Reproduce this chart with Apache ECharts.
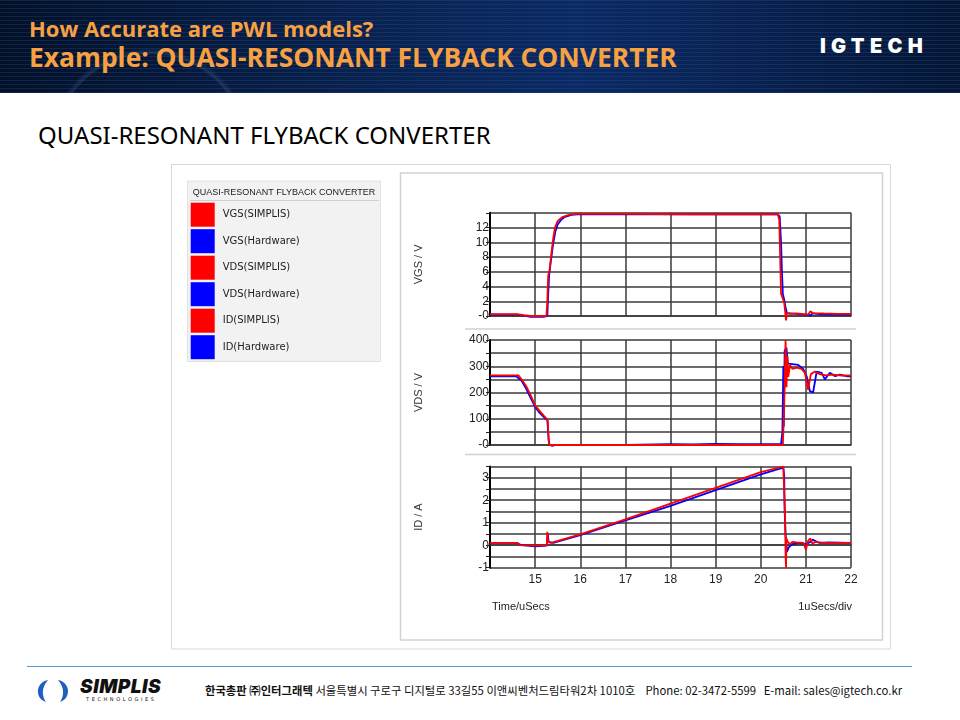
<!DOCTYPE html>
<html><head><meta charset="utf-8">
<script src="https://cdn.jsdelivr.net/npm/echarts@6/dist/echarts.min.js"></script>
<style>
html,body{margin:0;padding:0;width:960px;height:720px;overflow:hidden;background:#fff;}
#header{position:absolute;left:0;top:0;width:960px;height:93px;
  background:
   repeating-linear-gradient(180deg, rgba(60,100,190,0.22) 0px, rgba(60,100,190,0.22) 1px, rgba(0,0,0,0) 1px, rgba(0,0,0,0) 4px),
   radial-gradient(circle at 150px 150px, rgba(60,90,150,0) 0px, rgba(60,90,150,0) 95px, rgba(90,120,180,0.25) 97px, rgba(60,90,150,0) 102px),
   linear-gradient(90deg,#031127 0%,#08204a 35%,#0b2a63 60%,#08204c 80%,#041632 100%);}
.t1{position:absolute;left:29px;top:15px;font:bold 22px/26px "Open Sans",sans-serif;color:#f7a143;white-space:nowrap;}
.t2{position:absolute;left:29px;top:42px;font:bold 26.4px/30px "Open Sans",sans-serif;color:#f7a143;white-space:nowrap;}
.logo{position:absolute;left:820px;top:34px;font:900 20px/24px "Inter",sans-serif;color:#fff;letter-spacing:5.3px;white-space:nowrap;}
.sub{position:absolute;left:38px;top:120px;font:24px/30px "Noto Sans",sans-serif;color:#000;white-space:nowrap;}
.fline{position:absolute;left:27px;top:666px;width:885px;height:1px;background:#5c9bd1;}
.ftext{position:absolute;left:205px;top:682px;font:11.35px/16px "Noto Sans CJK KR",sans-serif;color:#111;white-space:nowrap;}
.ftext b{font-weight:bold;}
.simplis{position:absolute;left:30px;top:676px;width:150px;height:30px;}
.stext{position:absolute;left:80px;top:677px;font:italic 900 19px/20px "Inter",sans-serif;color:#111;letter-spacing:0.5px;}
.stech{position:absolute;left:86px;top:696px;font:5px/6px "DejaVu Sans",sans-serif;color:#111;letter-spacing:2.6px;}
#chart{position:absolute;left:0;top:0;width:960px;height:720px;}
</style></head>
<body>
<div id="header">
  <div class="t1">How Accurate are PWL models?</div>
  <div class="t2">Example: QUASI-RESONANT FLYBACK CONVERTER</div>
  <div class="logo">IGTECH</div>
</div>
<div class="sub">QUASI-RESONANT FLYBACK CONVERTER</div>
<div class="fline"></div>
<svg class="simplis" viewBox="0 0 150 30">
  <path d="M18 4 C6 6 4 22 16 26 C12 20 11 12 18 4 Z" fill="#1f5fbf"/>
  <path d="M28 4 C40 6 42 22 30 26 C34 20 35 12 28 4 Z" fill="#1f5fbf"/>
</svg>
<div class="stext">SIMPLIS</div>
<div class="stech">TECHNOLOGIES</div>
<div class="ftext"><b>한국총판 ㈜인터그래텍</b> 서울특별시 구로구 디지털로 33길55 이앤씨벤처드림타워2차 1010호 &nbsp;&nbsp; Phone: 02-3472-5599 &nbsp;&nbsp;E-mail: sales@igtech.co.kr</div>
<div id="chart"></div>
<script>
// ---- data: [time (uSecs), value] ----
const vgsSim = [[14,0.25],[14.6,0.25],[14.75,0.1],[14.9,0.0],[15.25,0.0],[15.27,2],[15.29,5.5],[15.32,6.2],[15.36,8.5],[15.4,10.5],[15.44,12.0],[15.5,12.9],[15.6,13.4],[15.75,13.7],[15.9,13.85],[17,13.85],[18.5,13.8],[20.38,13.8],[20.41,13.0],[20.43,8.0],[20.45,3.0],[20.48,2.5],[20.52,1.8],[20.55,0.0],[20.56,-0.6],[20.58,0.4],[20.65,0.3],[20.8,0.35],[20.95,0.25],[21.05,0.2],[21.1,0.65],[21.15,0.4],[21.4,0.35],[21.7,0.3],[22,0.3]];
const vgsHw = [[14,0.2],[14.6,0.2],[14.75,0.05],[14.9,-0.1],[15.2,-0.1],[15.27,0.0],[15.29,3.0],[15.31,5.5],[15.35,7.5],[15.4,9.8],[15.45,11.5],[15.5,12.4],[15.57,13.0],[15.65,13.4],[15.8,13.7],[16,13.8],[18,13.8],[20.38,13.8],[20.42,13.5],[20.45,10],[20.47,6],[20.49,3.0],[20.52,2.2],[20.55,1.2],[20.58,0.4],[20.62,0.3],[20.8,0.3],[21,0.2],[21.1,0.1],[21.15,0.35],[21.3,0.25],[21.5,0.2],[22,0.2]];
const vdsSim = [[14,265],[14.63,265],[14.7,250],[14.8,225],[14.9,190],[15,150],[15.1,130],[15.2,110],[15.28,95],[15.3,20],[15.31,0],[16,0],[18,0],[20.49,0],[20.52,150],[20.55,400],[20.57,220],[20.59,340],[20.61,260],[20.65,305],[20.7,290],[20.8,295],[20.9,290],[20.98,275],[21.05,210],[21.11,270],[21.2,280],[21.3,270],[21.45,265],[21.6,268],[21.8,264],[22,265]];
const vdsHw = [[14,262],[14.58,262],[14.7,245],[14.8,215],[14.9,180],[15,145],[15.1,122],[15.2,105],[15.27,95],[15.3,20],[15.32,0],[15.38,-3],[15.45,0],[17,0],[18,3],[18.5,2],[19,4],[19.5,3],[20,3],[20.45,4],[20.48,50],[20.5,300],[20.51,70],[20.53,360],[20.57,370],[20.6,310],[20.7,308],[20.83,305],[20.94,290],[21.02,260],[21.09,205],[21.16,200],[21.24,280],[21.35,275],[21.42,250],[21.53,275],[21.65,262],[21.75,268],[21.9,262],[22,262]];
const idSim = [[14,0.1],[14.62,0.1],[14.64,0.0],[15,-0.02],[15.26,0.0],[15.27,0.6],[15.29,0.15],[15.35,0.1],[16,0.48],[17,1.15],[18,1.85],[19,2.55],[20,3.25],[20.5,3.5],[20.52,3.45],[20.54,1.2],[20.55,-0.5],[20.56,-1.0],[20.57,0.3],[20.6,0.15],[20.65,0.05],[20.7,0.15],[20.8,0.12],[20.95,0.1],[21,-0.2],[21.05,0.2],[21.1,0.3],[21.15,0.05],[21.2,0.15],[21.4,0.1],[22,0.1]];
const idHw = [[14,0.1],[14.6,0.1],[14.7,0.0],[15,-0.05],[15.26,-0.02],[15.28,0.5],[15.3,0.15],[15.4,0.1],[16,0.45],[17,1.1],[18,1.75],[19,2.45],[20,3.15],[20.5,3.45],[20.52,3.1],[20.53,1.5],[20.55,0.5],[20.58,-0.3],[20.62,-0.1],[20.7,0.05],[20.85,0.1],[21,0.05],[21.1,0.15],[21.15,0.25],[21.2,0.2],[21.3,0.1],[21.5,0.12],[22,0.1]];
const seriesNames = ['VGS(SIMPLIS)','VGS(Hardware)','VDS(SIMPLIS)','VDS(Hardware)','ID(SIMPLIS)','ID(Hardware)'];
const yNames = ['VGS / V','VDS / V','ID / A'];
const xTitleLeft = 'Time/uSecs';
const xTitleRight = '1uSecs/div';
const legendTitle = 'QUASI-RESONANT FLYBACK CONVERTER';

const RED = '#ff0000', BLUE = '#0000ff';
const GRIDC = '#3a3a3a';
const chart = echarts.init(document.getElementById('chart'), null, {renderer:'canvas'});
const grids = [
  {left:490, right:109, top:212.75, height:103.25},
  {left:490, right:109, top:340, height:105},
  {left:490, right:109, top:466.5, height:101.2}
];
const xAxes = [0,1,2].map(i=>({
  type:'value', gridIndex:i, min:14, max:22, interval:1,
  axisLine:{show:true, lineStyle:{color:GRIDC, width:1.5}},
  axisTick:{show:false},
  splitLine:{show:true, lineStyle:{color:GRIDC, width:1.5}},
  axisLabel:{show:i===2, showMinLabel:false, fontSize:12, color:'#222', fontFamily:'Liberation Sans', margin:6}
}));
const yBase = (i)=>({
  type:'value', gridIndex:i,
  name:yNames[i], nameLocation:'middle', nameGap:66, nameRotate:90,
  nameTextStyle:{fontSize:11, color:'#333', fontFamily:'Liberation Sans'},
  axisLine:{show:true, lineStyle:{color:'#000', width:2}},
  axisTick:{show:true, length:4, lineStyle:{color:'#222', width:1}},
  splitLine:{show:true, lineStyle:{color:GRIDC, width:1.5}}
});
const yAxes = [
  Object.assign(yBase(0), {min:0, max:14, interval:2,
    axisLabel:{fontSize:12, color:'#222', fontFamily:'Liberation Sans', margin:1, formatter:v=>v===0?'-0':(v===14?'':String(v))}}),
  Object.assign(yBase(1), {min:0, max:400, interval:50,
    axisLabel:{fontSize:12, color:'#222', fontFamily:'Liberation Sans', margin:1, formatter:v=>v%100===0?(v===0?'-0':String(v)):''}}),
  Object.assign(yBase(2), {min:-1, max:3.5, interval:0.5,
    axisLabel:{fontSize:12, color:'#222', fontFamily:'Liberation Sans', margin:1, formatter:v=>Number.isInteger(v)?String(v):''}})
];
const mk = (name, data, idx, color, z)=>({
  name, type:'line', data, xAxisIndex:idx, yAxisIndex:idx, showSymbol:false, symbol:'none',
  lineStyle:{color, width:1.8}, itemStyle:{color}, z, clip:false, animation:false
});
const series = [
  mk(seriesNames[1], vgsHw, 0, BLUE, 2),
  mk(seriesNames[0], vgsSim, 0, RED, 3),
  mk(seriesNames[3], vdsHw, 1, BLUE, 2),
  mk(seriesNames[2], vdsSim, 1, RED, 3),
  mk(seriesNames[5], idHw, 2, BLUE, 2),
  mk(seriesNames[4], idSim, 2, RED, 3)
];
chart.setOption({
  animation:false,
  backgroundColor:'transparent',
  grid:grids, xAxis:xAxes, yAxis:yAxes, series,
  legend:{
    data:seriesNames, orient:'vertical', left:190.7, top:202.7, padding:0,
    itemWidth:24, itemHeight:24, itemGap:2.5, icon:'rect', selectedMode:false,
    textStyle:{fontSize:10, color:'#222', fontFamily:'DejaVu Sans', padding:[0,0,0,3]}
  },
  graphic:[
    {type:'rect', z:-10, shape:{x:171.5, y:164.5, width:719, height:484.5}, style:{fill:'#fff', stroke:'#d8d8d8', lineWidth:1}},
    {type:'rect', z:-9, shape:{x:400.5, y:173, width:482, height:467}, style:{fill:'#fff', stroke:'#d2d2d2', lineWidth:1.5}},
    {type:'rect', z:-8, shape:{x:187.5, y:181, width:193, height:180.5}, style:{fill:'#f2f2f2', stroke:'#e2e2e2', lineWidth:1}},
    {type:'text', z:5, style:{x:284, y:192.5, text:legendTitle, fill:'#222', font:'9px "Liberation Sans"', textAlign:'center', textVerticalAlign:'middle'}},
    {type:'line', z:5, shape:{x1:190, y1:200.5, x2:379, y2:200.5}, style:{stroke:'#d0d0d0', lineWidth:1}},
    {type:'line', z:-7, shape:{x1:465, y1:329, x2:856, y2:329}, style:{stroke:'#d0d0d0', lineWidth:1.5}},
    {type:'line', z:-7, shape:{x1:465, y1:454.5, x2:856, y2:454.5}, style:{stroke:'#d0d0d0', lineWidth:1.5}},
    {type:'text', z:5, style:{x:492, y:606.5, text:xTitleLeft, fill:'#222', font:'11px "Liberation Sans"', textAlign:'left', textVerticalAlign:'middle'}},
    {type:'text', z:5, style:{x:852, y:606.5, text:xTitleRight, fill:'#222', font:'11px "Liberation Sans"', textAlign:'right', textVerticalAlign:'middle'}}
  ]
});
</script>
</body></html>
